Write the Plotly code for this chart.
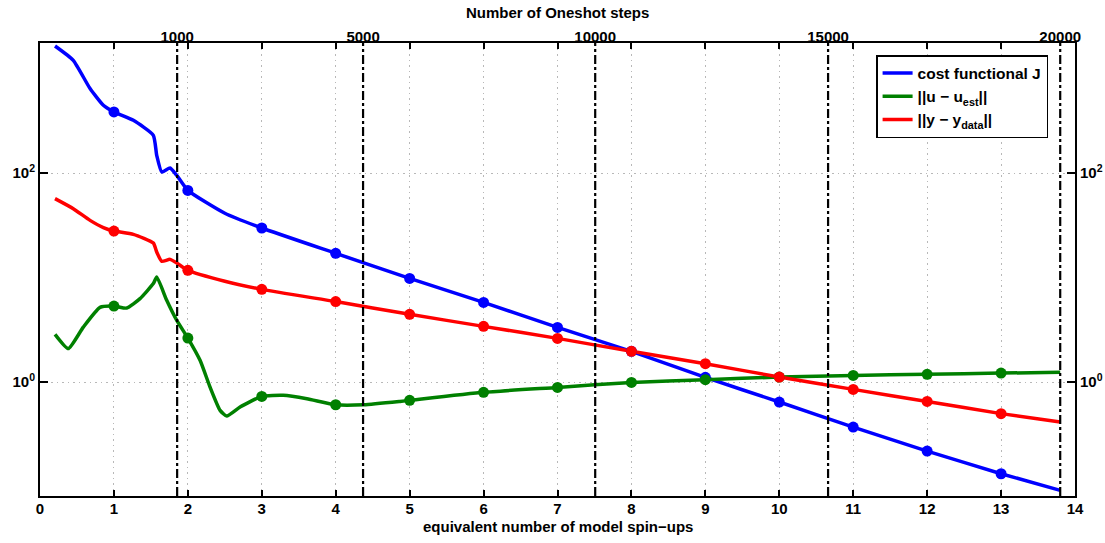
import plotly.graph_objects as go

# ---- data ----
x_J = [0.203, 0.45, 0.677, 0.857, 1.0, 1.263, 1.533, 1.579, 1.647, 1.759, 1.85, 2.0, 2.5, 3, 4, 5, 6, 7, 8, 9, 10, 11, 12, 13, 13.8]
y_J_log = [3.215, 3.078, 2.808, 2.648, 2.584, 2.504, 2.361, 2.169, 2.01, 2.048, 1.978, 1.834, 1.615, 1.474, 1.232, 0.992, 0.762, 0.523, 0.294, 0.045, -0.191, -0.431, -0.660, -0.877, -1.036]

x_U = [0.203, 0.383, 0.586, 0.812, 1.0, 1.173, 1.353, 1.533, 1.579, 1.714, 1.85, 2.0, 2.165, 2.30, 2.436, 2.526, 2.706, 3.0, 3.29, 3.61, 4.0, 4.38, 4.87, 5, 6, 7, 8, 9, 10, 11, 12, 13, 13.8]
y_U_log = [0.456, 0.320, 0.526, 0.715, 0.727, 0.708, 0.798, 0.942, 1.005, 0.782, 0.590, 0.421, 0.208, -0.048, -0.271, -0.325, -0.239, -0.137, -0.127, -0.159, -0.217, -0.217, -0.185, -0.175, -0.098, -0.051, -0.003, 0.023, 0.048, 0.064, 0.074, 0.086, 0.093]

x_Y = [0.203, 0.45, 0.677, 0.857, 1.0, 1.263, 1.533, 1.579, 1.647, 1.759, 1.85, 2.0, 2.5, 3, 4, 5, 6, 7, 8, 9, 10, 11, 12, 13, 13.8]
y_Y_log = [1.755, 1.659, 1.547, 1.478, 1.445, 1.413, 1.330, 1.244, 1.155, 1.174, 1.139, 1.069, 0.965, 0.887, 0.770, 0.648, 0.533, 0.418, 0.294, 0.176, 0.048, -0.070, -0.185, -0.302, -0.383]

oneshot_pos = [1.855, 4.37, 7.51, 10.66, 13.8]
oneshot_labels = ["1000", "5000", "10000", "15000", "20000"]

x_ticks = list(range(0, 15))
y_tickvals = [1, 100]
y_ticktext = ["10<sup>0</sup>", "10<sup>2</sup>"]

series = [
    ("<b>cost functional J</b>", x_J, y_J_log, "#0000FF"),
    ("<b>||u \u2212 u<sub>est</sub>||</b>", x_U, y_U_log, "#008000"),
    ("<b>||y \u2212 y<sub>data</sub>||</b>", x_Y, y_Y_log, "#FF0000"),
]

fig = go.Figure()
for name, xs, ylog, col in series:
    ys = [10 ** v for v in ylog]
    fig.add_trace(go.Scatter(x=xs, y=ys, mode="lines", name=name,
                             line=dict(color=col, width=3.5, shape="spline", smoothing=0.5)))
for name, xs, ylog, col in series:
    mx = [xv for xv in xs if float(xv).is_integer() and xv >= 1]
    my = [10 ** v for xv, v in zip(xs, ylog) if float(xv).is_integer() and xv >= 1]
    fig.add_trace(go.Scatter(x=mx, y=my, mode="markers", showlegend=False,
                             marker=dict(color=col, size=11)))

# dummy trace for top/right axes
fig.add_trace(go.Scatter(x=[None], y=[None], xaxis="x2", yaxis="y2", showlegend=False, hoverinfo="skip"))

for p in oneshot_pos:
    fig.add_shape(type="line", xref="x", yref="paper", x0=p, x1=p, y0=0, y1=1,
                  line=dict(color="black", width=2.2, dash="dashdot"))

font_b = dict(family="Liberation Sans, Arial", size=15, color="black")
yr = [-1.09, 3.244]
grid = dict(showgrid=True, gridcolor="#b8b8b8", griddash="1.5px,4px", gridwidth=1)

fig.add_annotation(text="<b>equivalent number of model spin\u2212ups</b>", xref="paper", yref="paper",
                   x=0.5, y=-0.0684, xanchor="center", yanchor="middle", showarrow=False, font=font_b)
fig.add_annotation(text="<b>Number of Oneshot steps</b>", xref="paper", yref="paper",
                   x=0.5, y=1.0684, xanchor="center", yanchor="middle", showarrow=False, font=font_b)

fig.update_layout(
    width=1105, height=543,
    margin=dict(l=40, r=30, t=43, b=47),
    paper_bgcolor="white", plot_bgcolor="white",
    font=dict(family="Liberation Sans, Arial", size=15, color="black"),
    xaxis=dict(range=[0, 14], tickvals=x_ticks, ticktext=[f"<b>{v}</b>" for v in x_ticks],
               ticks="inside", ticklen=6, tickwidth=1.5, tickcolor="black",
               showline=True, linecolor="black", linewidth=2, mirror="allticks",
               zeroline=False, tickfont=font_b, automargin=False, ticklabelstandoff=-2, **grid),
    yaxis=dict(type="log", range=yr, tickvals=y_tickvals, ticktext=[f"<b>{t}</b>" for t in y_ticktext],
               ticks="inside", ticklen=8, tickwidth=1.5, tickcolor="black",
               showline=True, linecolor="black", linewidth=2, mirror="allticks",
               zeroline=False, tickfont=font_b, automargin=False, **grid),
    xaxis2=dict(range=[0, 14], overlaying="x", side="top", tickvals=oneshot_pos,
                ticktext=[f"<b>{t}</b>" for t in oneshot_labels], ticks="", showgrid=False,
                showline=False, zeroline=False, tickfont=font_b, automargin=False,
                ticklabelstandoff=-3),
    yaxis2=dict(type="log", range=yr, overlaying="y", side="right", tickvals=y_tickvals,
                ticktext=[f"<b>{t}</b>" for t in y_ticktext], ticks="", showgrid=False,
                showline=False, zeroline=False, tickfont=font_b, automargin=False,
                ticklabelstandoff=4),
    legend=dict(x=0.974, y=0.9735, xanchor="right", yanchor="top",
                bgcolor="white", bordercolor="black", borderwidth=1.5,
                font=dict(family="Liberation Sans, Arial", size=15.5, color="black"),
                tracegroupgap=0, itemwidth=30),
    showlegend=True,
)

fig.write_html("out.html", config={"displayModeBar": False},
               post_script="document.body.style.margin='0';document.body.style.overflow='hidden';")
